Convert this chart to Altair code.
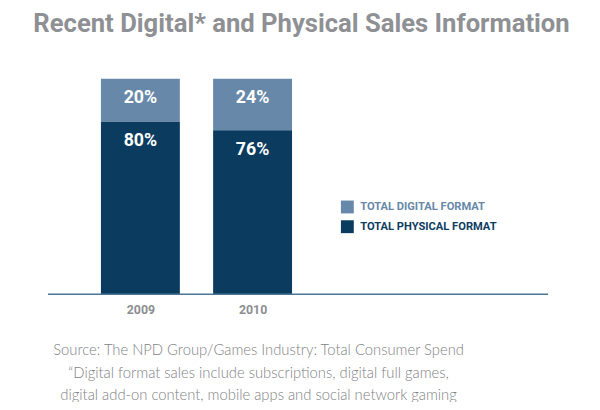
import altair as alt
import pandas as pd

years = [2009, 2009, 2010, 2010]
formats = ["TOTAL DIGITAL FORMAT", "TOTAL PHYSICAL FORMAT", "TOTAL DIGITAL FORMAT", "TOTAL PHYSICAL FORMAT"]
shares = [20, 80, 24, 76]
stack_rank = [1, 0, 1, 0]
format_order = ["TOTAL DIGITAL FORMAT", "TOTAL PHYSICAL FORMAT"]
format_colors = ["#6788a8", "#0b3c60"]
year_ticks = [2009, 2010]
footnotes = [
    "Source: The NPD Group/Games Industry: Total Consumer Spend",
    "\u201cDigital format sales include subscriptions, digital full games,",
    "digital add-on content, mobile apps and social network gaming",
]

df = pd.DataFrame({"year": years, "format": formats, "share": shares, "rank": stack_rank})
df["label"] = df["share"].astype(str) + "%"

BOLD = "Roboto, sans-serif"

base = alt.Chart(df).transform_stack(
    stack="share", groupby=["year"], sort=[alt.SortField("rank", order="ascending")], as_=["lo", "hi"]
)

x_scale = alt.Scale(domain=[2008.2155, 2012.586], nice=False, zero=False)

x_enc = alt.X(
    "year:Q",
    title=None,
    scale=x_scale,
    axis=alt.Axis(
        values=year_ticks, format="d", labelAngle=0, ticks=False, grid=False,
        domainColor="#4a7594", domainWidth=1.5,
        labelFont=BOLD, labelFontSize=12.5, labelFontWeight="bold", labelColor="#8c8e91",
        labelPadding=10,
    ),
)

bars = base.mark_bar(size=80).encode(
    x=x_enc,
    y=alt.Y("lo:Q", scale=alt.Scale(domain=[0, 100]), axis=None),
    y2="hi:Q",
    color=alt.Color(
        "format:N",
        scale=alt.Scale(domain=format_order, range=format_colors),
        legend=alt.Legend(
            title=None, orient="none", legendX=297, legendY=123,
            symbolType="square", symbolSize=170, symbolStrokeWidth=0,
            labelFont=BOLD, labelFontSize=11.3, labelFontWeight="bold", labelLimit=0,
            labelColor={"expr": "datum.label == 'TOTAL DIGITAL FORMAT' ? '#6788a8' : '#0b3c60'"},
            rowPadding=6, labelOffset=6,
        ),
    ),
)

labels = base.mark_text(
    baseline="top", dy=11, color="white", font=BOLD, fontSize=18, fontWeight="bold"
).encode(
    x=alt.X("year:Q", scale=x_scale),
    y=alt.Y("hi:Q", scale=alt.Scale(domain=[0, 100]), axis=None),
    text="label:N",
)

foot_df = pd.DataFrame({"t": footnotes, "line": [0, 1, 2]})
foot = alt.Chart(foot_df).mark_text(
    font="Lato, Roboto, sans-serif", fontSize=15, color="#808285", fontWeight=300
).encode(
    x=alt.value(214),
    y=alt.Y("line:O", scale=alt.Scale(range=[275, 321], padding=0), axis=None),
    text="t:N",
)

chart = alt.layer(bars, labels, foot).resolve_scale(y="independent").properties(
    width=507,
    height=218,
    autosize=alt.AutoSizeParams(type="none"),
    padding={"left": 40, "top": 69, "right": 45, "bottom": 107},
    title=alt.Title(
        "Recent Digital* and Physical Sales Information",
        font=BOLD, fontSize=26, fontWeight="bold", color="#8e9094",
        anchor="middle", offset=42, dx=4,
    ),
).configure_view(stroke=None)

chart.save("out.html", embed_options={"renderer": "svg", "actions": False})
